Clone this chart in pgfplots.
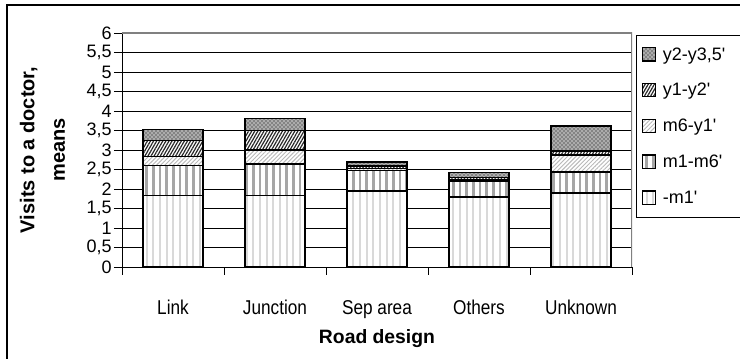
\documentclass[border=0pt]{standalone}
\usepackage{fontspec}
\setmainfont{Liberation Sans}
\newfontfamily\narrowfont[FakeStretch=0.86]{Liberation Sans}
\usepackage{pgfplots}
\usepackage{pgfplotstable}
\pgfplotsset{compat=1.18}
\usetikzlibrary{patterns,patterns.meta}

% visits to a doctor, means, by road design (stacked by time period)
\pgfplotstableread{
x  m1   m1m6 m6y1 y1y2 y2y35
0  1.83 0.77 0.24 0.41 0.27
1  1.83 0.81 0.36 0.50 0.31
2  1.95 0.52 0.05 0.07 0.10
3  1.80 0.40 0.04 0.06 0.12
4  1.90 0.54 0.43 0.11 0.63
}\visits

\begin{document}
\begin{tikzpicture}[x=1pt,y=1pt]
\useasboundingbox (0,0) rectangle (555,269.25);
\clip (0,0) rectangle (555,269.25);
\draw[line width=0.8pt] (5.25,0) -- (5.25,265.5) -- (560,265.5);
\begin{axis}[
  at={(91.5pt,69pt)}, anchor=south west,
  scale only axis, width=382.5pt, height=175.5pt,
  ybar stacked, bar width=0.59,
  xmin=-0.5, xmax=4.5, ymin=0, ymax=6,
  axis x line*=bottom, axis y line*=left,
  axis line style={black, line width=0.7pt},
  xtick={0,1,2,3,4},
  xticklabels={Link,Junction,Sep area,Others,Unknown},
  minor xtick={-0.5,0.5,1.5,2.5,3.5,4.5},
  every major x tick/.append style={draw=none},
  ytick={0,0.5,1,1.5,2,2.5,3,3.5,4,4.5,5,5.5,6},
  tick align=outside, major tick length=6pt, minor tick length=6pt,
  tick style={black, line width=0.6pt},
  ymajorgrids, grid style={black, line width=0.6pt},
  yticklabel style={/pgf/number format/.cd, use comma, assume math mode=true,
    /tikz/.cd, font=\fontsize{13.5}{13.5}\selectfont, inner sep=1.5pt},
  xticklabel style={anchor=base, yshift=-30pt, font=\narrowfont\fontsize{15}{17}\selectfont},
  xlabel={Road design},
  xlabel style={at={(axis description cs:0.5,0)}, anchor=base, yshift=-57.5pt,
    font=\bfseries\fontsize{14.5}{16}\selectfont},
  ylabel={Visits to a doctor,\\[6pt]means},
  ylabel style={at={(axis description cs:-0.156,0.5)}, anchor=center, rotate=0,
    align=center, font=\bfseries\fontsize{15}{17}\selectfont},
  reverse legend,
  legend cell align=left,
  legend image code/.code={\draw[#1, line width=0.8pt] (0pt,-4.5pt) rectangle (10pt,5.5pt);},
  legend style={at={(axis description cs:1.0078,0.991)}, anchor=north west,
    draw=black, line width=0.6pt, font=\fontsize{13.5}{15}\selectfont,
    row sep=12pt, inner ysep=7pt, inner xsep=4pt,
    nodes={text width=70pt, inner xsep=5pt}},
  every axis plot/.append style={draw=black, line width=1.1pt},
]
\addplot[preaction={fill=white}, pattern={Lines[angle=90,distance=5pt,line width=1.3pt]}, pattern color=gray!30]
  table[x=x, y=m1] {\visits};
\addlegendentry{-m1\textquotesingle}
\addplot[preaction={fill=white}, pattern={Lines[angle=90,distance=5pt,line width=2pt]}, pattern color=gray!70]
  table[x=x, y=m1m6] {\visits};
\addlegendentry{m1-m6\textquotesingle}
\addplot[preaction={fill=white}, pattern={Lines[angle=45,distance=2.2pt,line width=0.7pt]}, pattern color=gray!55]
  table[x=x, y=m6y1] {\visits};
\addlegendentry{m6-y1\textquotesingle}
\addplot[preaction={fill=white}, pattern={Lines[angle=60,distance=2pt,line width=0.9pt]}, pattern color=black!85]
  table[x=x, y=y1y2] {\visits};
\addlegendentry{y1-y2\textquotesingle}
\addplot[preaction={fill=gray!65}, pattern=crosshatch dots, pattern color=black]
  table[x=x, y=y2y35] {\visits};
\addlegendentry{y2-y3,5\textquotesingle}
\draw[gray, line width=0.8pt] (rel axis cs:0,1) -- (rel axis cs:1,1) -- (rel axis cs:1,0);
\end{axis}
\end{tikzpicture}
\end{document}
